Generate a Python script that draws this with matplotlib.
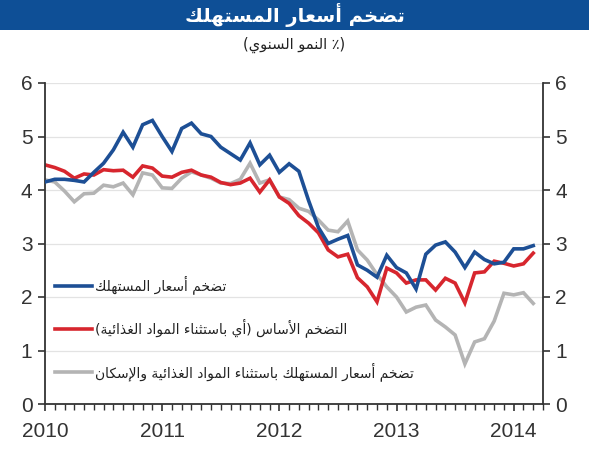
import numpy as np
import matplotlib
matplotlib.use("Agg")
import matplotlib.pyplot as plt
from matplotlib.patches import Rectangle

plt.rcParams['font.family'] = ['Liberation Sans', 'DejaVu Sans']

# monthly data, Jan 2010 .. Mar 2014
cpi = [4.15, 4.2, 4.2, 4.18, 4.15, 4.33, 4.5, 4.75, 5.08, 4.8,
       5.22, 5.3, 5.0, 4.72, 5.15, 5.25, 5.05, 5.0, 4.8, 4.68,
       4.56, 4.88, 4.47, 4.65, 4.33, 4.49, 4.35, 3.8, 3.3, 3.0,
       3.08, 3.15, 2.6, 2.5, 2.37, 2.78, 2.55, 2.45, 2.15, 2.8,
       2.97, 3.03, 2.84, 2.55, 2.84, 2.7, 2.62, 2.65, 2.9, 2.9, 2.96]
core = [4.47, 4.42, 4.35, 4.22, 4.3, 4.28, 4.38, 4.36, 4.37, 4.24,
        4.45, 4.41, 4.26, 4.24, 4.33, 4.37, 4.28, 4.24, 4.14, 4.1,
        4.13, 4.22, 3.96, 4.19, 3.87, 3.75, 3.52, 3.38, 3.2, 2.88,
        2.75, 2.8, 2.36, 2.19, 1.91, 2.54, 2.45, 2.26, 2.32, 2.32,
        2.13, 2.35, 2.26, 1.89, 2.45, 2.47, 2.67, 2.63, 2.58, 2.62, 2.82]
ex_food_housing = [4.19, 4.15, 3.98, 3.78, 3.93, 3.94, 4.09, 4.06, 4.13, 3.91,
                   4.32, 4.28, 4.04, 4.03, 4.22, 4.34, 4.28, 4.22, 4.13, 4.12,
                   4.2, 4.5, 4.13, 4.19, 3.87, 3.82, 3.66, 3.6, 3.44, 3.25,
                   3.22, 3.42, 2.88, 2.69, 2.42, 2.19, 2.0, 1.72, 1.81, 1.85,
                   1.57, 1.44, 1.29, 0.75, 1.16, 1.22, 1.55, 2.07, 2.04, 2.08, 1.88]
years = ['2010', '2011', '2012', '2013', '2014']

title = 'تضخم أسعار المستهلك'
subtitle = '(٪ النمو السنوي)'
labels = ['تضخم أسعار المستهلك',
          'التضخم الأساس (أي باستثناء المواد الغذائية)',
          'تضخم أسعار المستهلك باستثناء المواد الغذائية والإسكان']

# --- poor man's arabic shaping (no reshaper available) ---
FORMS = {
    '\u0621': ('\uFE80', None, None, None),
    '\u0623': ('\uFE83', '\uFE84', None, None),
    '\u0625': ('\uFE87', '\uFE88', None, None),
    '\u0626': ('\uFE89', '\uFE8A', '\uFE8B', '\uFE8C'),
    '\u0627': ('\uFE8D', '\uFE8E', None, None),
    '\u0628': ('\uFE8F', '\uFE90', '\uFE91', '\uFE92'),
    '\u0629': ('\uFE93', '\uFE94', None, None),
    '\u062A': ('\uFE95', '\uFE96', '\uFE97', '\uFE98'),
    '\u062B': ('\uFE99', '\uFE9A', '\uFE9B', '\uFE9C'),
    '\u062E': ('\uFEA5', '\uFEA6', '\uFEA7', '\uFEA8'),
    '\u062F': ('\uFEA9', '\uFEAA', None, None),
    '\u0630': ('\uFEAB', '\uFEAC', None, None),
    '\u0631': ('\uFEAD', '\uFEAE', None, None),
    '\u0633': ('\uFEB1', '\uFEB2', '\uFEB3', '\uFEB4'),
    '\u0636': ('\uFEBD', '\uFEBE', '\uFEBF', '\uFEC0'),
    '\u0639': ('\uFEC9', '\uFECA', '\uFECB', '\uFECC'),
    '\u063A': ('\uFECD', '\uFECE', '\uFECF', '\uFED0'),
    '\u0643': ('\uFED9', '\uFEDA', '\uFEDB', '\uFEDC'),
    '\u0644': ('\uFEDD', '\uFEDE', '\uFEDF', '\uFEE0'),
    '\u0645': ('\uFEE1', '\uFEE2', '\uFEE3', '\uFEE4'),
    '\u0646': ('\uFEE5', '\uFEE6', '\uFEE7', '\uFEE8'),
    '\u0647': ('\uFEE9', '\uFEEA', '\uFEEB', '\uFEEC'),
    '\u0648': ('\uFEED', '\uFEEE', None, None),
    '\u064A': ('\uFEF1', '\uFEF2', '\uFEF3', '\uFEF4'),
}
LAM_ALEF = {'\u0627': ('\uFEFB', '\uFEFC'),
            '\u0623': ('\uFEF7', '\uFEF8'),
            '\u0625': ('\uFEF9', '\uFEFA')}


def dual(c):
    return c in FORMS and FORMS[c][2] is not None


def ar(text):
    out = []
    i = 0
    n = len(text)
    while i < n:
        c = text[i]
        if c not in FORMS:
            out.append(c)
            i += 1
            continue
        join_prev = i > 0 and dual(text[i - 1])
        if c == '\u0644' and i + 1 < n and text[i + 1] in LAM_ALEF:
            out.append(LAM_ALEF[text[i + 1]][1 if join_prev else 0])
            i += 2
            continue
        nxt = text[i + 1] if i + 1 < n else ''
        join_next = dual(c) and nxt in FORMS and nxt != '\u0621'
        iso, fin, ini, med = FORMS[c]
        if join_prev and join_next:
            f = med
        elif join_prev:
            f = fin
        elif join_next:
            f = ini
        else:
            f = iso
        out.append(f)
        i += 1
    vis = ''.join(reversed(out))
    return vis.translate(str.maketrans('()', ')('))


fig = plt.figure(figsize=(5.89, 4.5), dpi=100)

# title bar
fig.patches.append(Rectangle((0, 1 - 30 / 450), 1, 30 / 450, transform=fig.transFigure,
                             facecolor='#0e4f96', edgecolor='none'))
fig.text(0.5, 1 - 15 / 450, ar(title), ha='center', va='center', color='white',
         fontsize=14, fontweight='bold', family=['DejaVu Sans'])
fig.text(0.5, 1 - 45 / 450, ar(subtitle), ha='center', va='center', color='#222222',
         fontsize=10.5, family=['DejaVu Sans'])

ax = fig.add_axes([45 / 589, 46 / 450, 498 / 589, 321 / 450])
x = np.arange(len(cpi))

ax.plot(x, cpi, color='#1d4f95', lw=2.6, label=ar(labels[0]), solid_joinstyle='miter')
ax.plot(x, core, color='#d7262e', lw=2.6, label=ar(labels[1]), solid_joinstyle='miter')
ax.plot(x, ex_food_housing, color='#b4b4b4', lw=2.6, label=ar(labels[2]), solid_joinstyle='miter')
# draw order: gray under red under blue
for ln, z in zip(ax.lines, [3, 2.5, 2]):
    ln.set_zorder(z)

ax.set_xlim(0, 51)
ax.set_ylim(0, 6)
ax.set_yticks(range(7))
ax.set_xticks([0, 12, 24, 36, 48])
ax.set_xticklabels(years)
ax.set_xticks(np.arange(52), minor=True)
ax.grid(axis='y', color='#e3e3e3', lw=0.9)
ax.set_axisbelow(True)

for s in ['left', 'right', 'bottom']:
    ax.spines[s].set_color('#333333')
    ax.spines[s].set_linewidth(1.3)
ax.spines['top'].set_visible(False)

ax.tick_params(axis='y', which='both', left=True, right=True, labelleft=True, labelright=True,
               direction='out', length=5, width=1.2, color='#333333', labelsize=15,
               labelcolor='#333333', pad=4)
ax.tick_params(axis='x', which='major', direction='out', length=5, width=1.2, color='#333333',
               labelsize=15, labelcolor='#333333', pad=8)
ax.tick_params(axis='x', which='minor', direction='out', length=4, width=1.0, color='#333333')

leg = ax.legend(loc='upper left', bbox_to_anchor=(0.02, 0.40), frameon=False,
                borderpad=0, borderaxespad=0, handlelength=2.7, handletextpad=0.2,
                labelspacing=1.75, prop={'family': ['DejaVu Sans'], 'size': 10})
for t in leg.get_texts():
    t.set_color('#222222')

fig.savefig('out.png', dpi=100)
